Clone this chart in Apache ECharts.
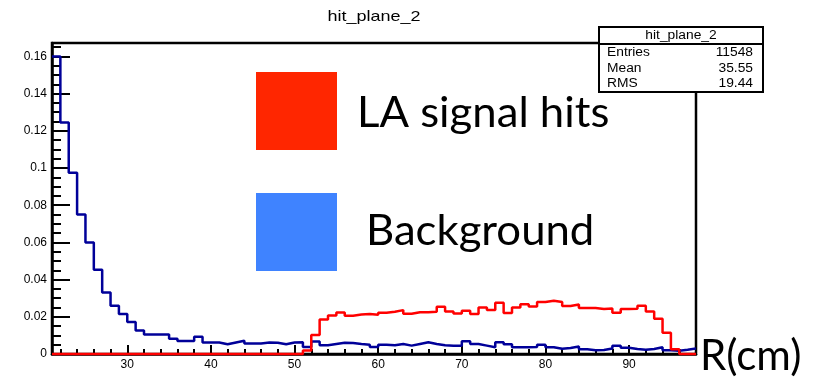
<!DOCTYPE html>
<html>
<head>
<meta charset="utf-8">
<script src="https://cdn.jsdelivr.net/npm/echarts@6/dist/echarts.min.js"></script>
<style>
  html, body { margin: 0; padding: 0; background: #fff; }
  #chart { width: 826px; height: 386px; }
</style>
</head>
<body>
<div id="chart"></div>
<script>
// Histogram range: 1 cm bins from R = 21 cm to R = 98 cm
const binLow = 21;
const binHigh = 98;

// Background hits per bin (normalised), bins 21..97
const background = [
  0.1600, 0.1244, 0.0975, 0.0750, 0.0599, 0.0453, 0.0331, 0.0259, 0.0215, 0.0172,
  0.0127, 0.0105, 0.0105, 0.0105, 0.0082, 0.0070, 0.0070, 0.0093, 0.0062, 0.0062,
  0.0052, 0.0062, 0.0071, 0.0057, 0.0057, 0.0062, 0.0060, 0.0052, 0.0062, 0.0063,
  0.0037, 0.0067, 0.0047, 0.0054, 0.0061, 0.0059, 0.0054, 0.0050, 0.0037, 0.0050,
  0.0047, 0.0054, 0.0045, 0.0054, 0.0063, 0.0054, 0.0047, 0.0045, 0.0045, 0.0068,
  0.0054, 0.0045, 0.0036, 0.0063, 0.0052, 0.0036, 0.0036, 0.0037, 0.0050, 0.0036,
  0.0028, 0.0032, 0.0040, 0.0025, 0.0020, 0.0021, 0.0030, 0.0045, 0.0034, 0.0027,
  0.0023, 0.0027, 0.0036, 0.0020, 0.0018, 0.0023, 0.0029
];

// LA signal hits per bin (normalised), bins 21..97
const signal = [
  0, 0, 0, 0, 0, 0, 0, 0, 0, 0,
  0, 0, 0, 0, 0, 0, 0, 0, 0, 0,
  0, 0, 0, 0, 0, 0, 0, 0, 0, 0,
  0.0019, 0.0102, 0.0186, 0.0207, 0.0223, 0.0206, 0.0212, 0.0215, 0.0211, 0.0222,
  0.0227, 0.0236, 0.0216, 0.0224, 0.0225, 0.0227, 0.0254, 0.0229, 0.0218, 0.0233,
  0.0215, 0.0250, 0.0236, 0.0276, 0.0220, 0.0250, 0.0268, 0.0256, 0.0279, 0.0286,
  0.0279, 0.0258, 0.0266, 0.0247, 0.0247, 0.0242, 0.0245, 0.0222, 0.0242, 0.0243,
  0.0259, 0.0229, 0.0190, 0.0114, 0.0025, 0, 0
];

// Axis ticks
const xMajorTicks = [30, 40, 50, 60, 70, 80, 90];
const xMinorTicks = [22, 24, 26, 28, 32, 34, 36, 38, 42, 44, 46, 48, 52, 54, 56, 58,
  62, 64, 66, 68, 72, 74, 76, 78, 82, 84, 86, 88, 92, 94, 96];
const yMax = 0.1672;
const yMajorTicks = [0, 0.02, 0.04, 0.06, 0.08, 0.1, 0.12, 0.14, 0.16];
const yTickLabels = ['0', '0.02', '0.04', '0.06', '0.08', '0.1', '0.12', '0.14', '0.16'];
const yMinorTicks = [0.005, 0.01, 0.015, 0.025, 0.03, 0.035, 0.045, 0.05, 0.055,
  0.065, 0.07, 0.075, 0.085, 0.09, 0.095, 0.105, 0.11, 0.115, 0.125, 0.13, 0.135,
  0.145, 0.15, 0.155, 0.165];

// Statistics box
const histName = 'hit_plane_2';
const statsRows = [['Entries', '11548'], ['Mean', '35.55'], ['RMS', '19.44']];

// Legend entries and axis title
const legendItems = [
  { name: 'LA signal hits', color: '#ff2600' },
  { name: 'Background', color: '#3f83ff' }
];
const xTitle = 'R(cm)';

// Outline of a histogram: each bin's low edge, plus the closing upper edge
function histOutline(values) {
  const pts = values.map((v, i) => [binLow + i, v]);
  pts.push([binLow + values.length, values[values.length - 1]]);
  return pts;
}

const ROOT_FONT = 'Liberation Sans, Arial, Helvetica, sans-serif';
const SLIDE_FONT = 'Lato, "Open Sans", sans-serif';

function label(text, x, y, size, align, opts) {
  opts = opts || {};
  return {
    type: 'text', x: x, y: y, z: 20,
    scaleX: opts.scaleX || 1,
    style: {
      text: text, x: 0, y: 0,
      font: size + 'px ' + (opts.font || ROOT_FONT),
      fill: '#000', align: align, verticalAlign: 'middle'
    }
  };
}

const chart = echarts.init(document.getElementById('chart'), null, { renderer: 'canvas' });

const axisBlack = { color: '#000', width: 2.5 };
const tickBlack = { color: '#000', width: 2 };

chart.setOption({
  animation: false,
  backgroundColor: '#fff',
  grid: {
    left: 52, right: 130, top: 43, bottom: 32,
    show: true, borderColor: '#000', borderWidth: 2.5,
    backgroundColor: 'transparent',
    containLabel: false, outerBoundsMode: 'none'
  },
  xAxis: [
    {
      type: 'value', min: binLow, max: binHigh, position: 'bottom',
      axisLine: { show: true, onZero: false, lineStyle: axisBlack },
      axisTick: { show: true, inside: true, length: 9, customValues: xMajorTicks, lineStyle: tickBlack },
      axisLabel: { customValues: xMajorTicks, color: '#000', fontSize: 12, fontFamily: ROOT_FONT, margin: 5 },
      splitLine: { show: false }
    },
    {
      type: 'value', min: binLow, max: binHigh, position: 'bottom',
      axisLine: { show: false },
      axisTick: { show: true, inside: true, length: 5, customValues: xMinorTicks, lineStyle: tickBlack },
      axisLabel: { show: false },
      splitLine: { show: false }
    }
  ],
  yAxis: [
    {
      type: 'value', min: 0, max: yMax, position: 'left',
      axisLine: { show: true, onZero: false, lineStyle: axisBlack },
      axisTick: { show: true, inside: true, length: 18, customValues: yMajorTicks, lineStyle: tickBlack },
      axisLabel: {
        customValues: yMajorTicks, color: '#000', fontSize: 12, fontFamily: ROOT_FONT, margin: 5,
        formatter: function (v) {
          const i = yMajorTicks.findIndex(t => Math.abs(t - v) < 1e-9);
          return i >= 0 ? yTickLabels[i] : '';
        }
      },
      splitLine: { show: false }
    },
    {
      type: 'value', min: 0, max: yMax, position: 'left',
      axisLine: { show: false },
      axisTick: { show: true, inside: true, length: 9, customValues: yMinorTicks, lineStyle: tickBlack },
      axisLabel: { show: false },
      splitLine: { show: false }
    }
  ],
  series: [
    {
      name: 'Background', type: 'line', step: 'end',
      xAxisIndex: 0, yAxisIndex: 0,
      data: histOutline(background),
      symbol: 'none', clip: false, z: 3,
      lineStyle: { color: '#000099', width: 2.5 }
    },
    {
      name: 'LA signal hits', type: 'line', step: 'end',
      xAxisIndex: 0, yAxisIndex: 0,
      data: histOutline(signal),
      symbol: 'none', clip: false, z: 4,
      lineStyle: { color: '#ff0000', width: 2.5 }
    }
  ],
  graphic: [
    // histogram title
    label(histName, 374, 17, 15, 'center', { scaleX: 1.2 }),
    // statistics box
    {
      type: 'rect', z: 15,
      shape: { x: 599, y: 27, width: 164, height: 65 },
      style: { fill: '#fff', stroke: '#000', lineWidth: 2 }
    },
    {
      type: 'line', z: 16,
      shape: { x1: 599, y1: 44, x2: 763, y2: 44 },
      style: { stroke: '#000', lineWidth: 2 }
    },
    label(histName, 681, 35.5, 12, 'center', { scaleX: 1.15 }),
    label(statsRows[0][0], 607, 53, 12, 'left', { scaleX: 1.15 }),
    label(statsRows[0][1], 753, 53, 12, 'right', { scaleX: 1.15 }),
    label(statsRows[1][0], 607, 68.5, 12, 'left', { scaleX: 1.15 }),
    label(statsRows[1][1], 753, 68.5, 12, 'right', { scaleX: 1.15 }),
    label(statsRows[2][0], 607, 83.5, 12, 'left', { scaleX: 1.15 }),
    label(statsRows[2][1], 753, 83.5, 12, 'right', { scaleX: 1.15 }),
    // legend swatches and labels
    {
      type: 'rect', z: 10,
      shape: { x: 256, y: 72, width: 81, height: 78 },
      style: { fill: legendItems[0].color }
    },
    {
      type: 'rect', z: 10,
      shape: { x: 256, y: 193, width: 81, height: 78 },
      style: { fill: legendItems[1].color }
    },
    label(legendItems[0].name, 357, 113, 42, 'left', { font: SLIDE_FONT, scaleX: 1.04 }),
    label(legendItems[1].name, 366, 231, 42, 'left', { font: SLIDE_FONT, scaleX: 1.04 }),
    // x axis title
    label(xTitle, 700, 356, 42, 'left', { font: SLIDE_FONT })
  ]
});
</script>
</body>
</html>
